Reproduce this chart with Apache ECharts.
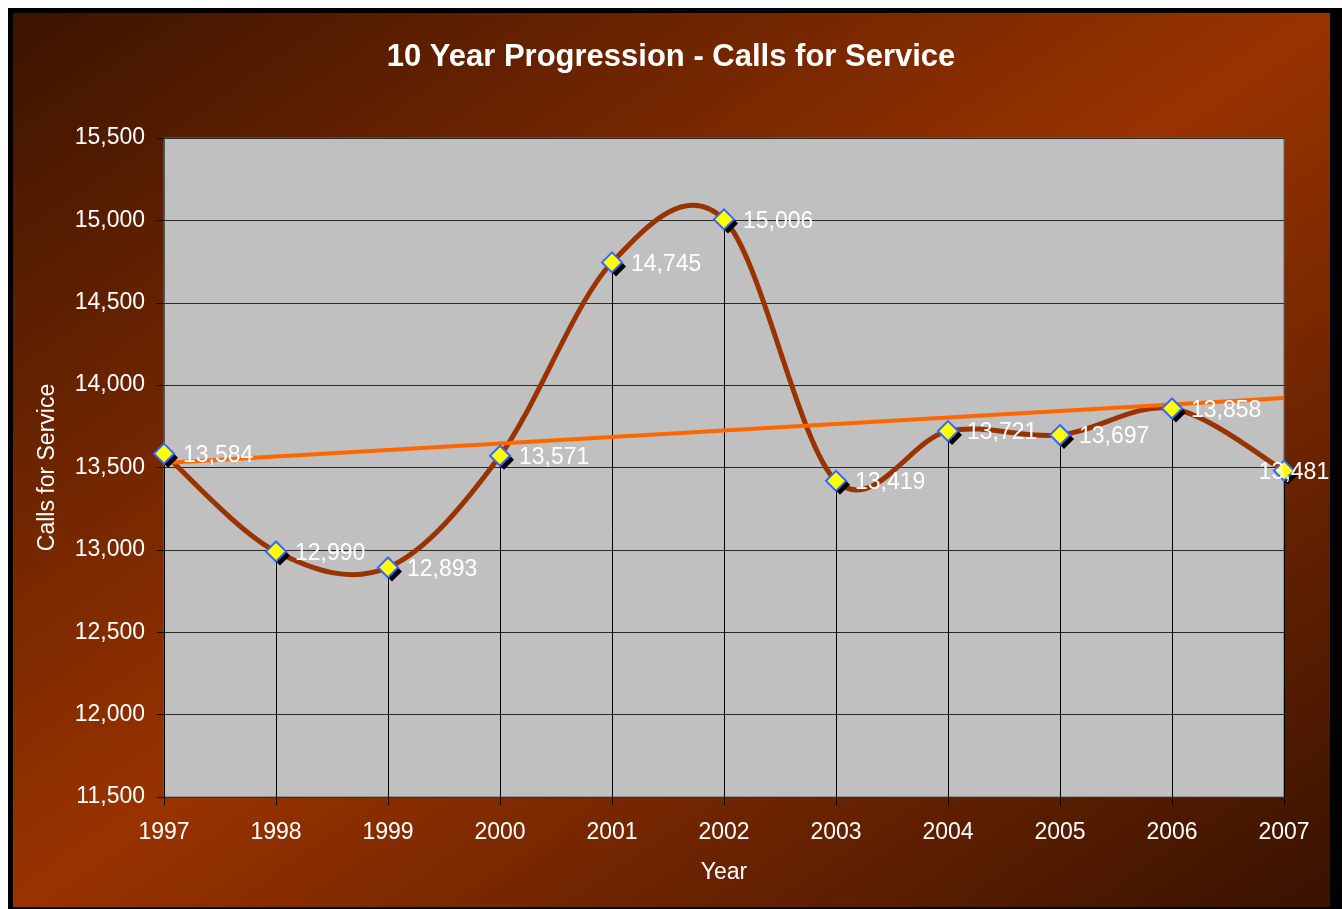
<!DOCTYPE html>
<html>
<head>
<meta charset="utf-8">
<title>10 Year Progression - Calls for Service</title>
<script src="https://cdn.jsdelivr.net/npm/echarts@6/dist/echarts.min.js"></script>
<style>
  html, body { margin: 0; padding: 0; background: #fff; }
  #chart { width: 1342px; height: 909px; }
</style>
</head>
<body>
<div id="chart"></div>
<script>
// values
const years = ['1997', '1998', '1999', '2000', '2001', '2002', '2003', '2004', '2005', '2006', '2007'];
const calls = [13584, 12990, 12893, 13571, 14745, 15006, 13419, 13721, 13697, 13858, 13481];
// trend line end points (1997 and 2007)
const trendEnds = [13527, 13922];
const yTicks = { min: 11500, max: 15500, step: 500 };

const font = "'Liberation Sans', Arial, sans-serif";
const myChart = echarts.init(document.getElementById('chart'));

const trend = years.map((y, i) => {
  if (i === 0) return trendEnds[0];
  if (i === years.length - 1) return trendEnds[1];
  return null;
});

const pointData = calls.map((v, i) => {
  if (i === calls.length - 1) {
    return { value: v, label: { position: 'inside', offset: [10, 2] } };
  }
  return v;
});

const fmt = (v) => Number(v).toLocaleString('en-US');

// excel style smoothed line, one bezier segment per point pair
function renderSmooth(params, api) {
  const i = params.dataIndex;
  if (i >= calls.length - 1) return null;
  const pt = (k) => {
    k = Math.max(0, Math.min(calls.length - 1, k));
    return api.coord([k, calls[k]]);
  };
  const p0 = pt(i - 1), p1 = pt(i), p2 = pt(i + 1), p3 = pt(i + 2);
  return {
    type: 'bezierCurve',
    shape: {
      x1: p1[0], y1: p1[1],
      x2: p2[0], y2: p2[1],
      cpx1: p1[0] + (p2[0] - p0[0]) / 6,
      cpy1: p1[1] + (p2[1] - p0[1]) / 6,
      cpx2: p2[0] - (p3[0] - p1[0]) / 6,
      cpy2: p2[1] - (p3[1] - p1[1]) / 6
    },
    style: { fill: null, stroke: '#993300', lineWidth: 5, lineCap: 'round' }
  };
}

// drop lines from each point down to the axis
function renderDrop(params, api) {
  const top = api.coord([api.value(0), api.value(1)]);
  const bottom = api.coord([api.value(0), yTicks.min]);
  const x = Math.round(top[0]) + 0.5;
  return {
    type: 'line',
    shape: { x1: x, y1: top[1], x2: x, y2: bottom[1] },
    style: { stroke: '#000', lineWidth: 1 }
  };
}

const xy = calls.map((v, i) => [i, v]);

const option = {
  backgroundColor: '#ffffff',
  animation: false,
  graphic: [
    {
      type: 'rect', z: -10, silent: true,
      shape: { x: 8, y: 8, width: 1334, height: 901 },
      style: { fill: '#000' }
    },
    {
      type: 'rect', z: -9, silent: true,
      shape: { x: 13, y: 13, width: 1317, height: 894 },
      style: {
        fill: new echarts.graphic.LinearGradient(256, -152, 1087, 1072, [
          { offset: 0, color: '#3c1400' },
          { offset: 0.5, color: '#993300' },
          { offset: 1, color: '#381200' }
        ], true)
      }
    }
  ],
  title: {
    text: '10 Year Progression - Calls for Service',
    left: 'center',
    top: 37,
    textStyle: { color: '#fff', fontSize: 31, fontWeight: 'bold', fontFamily: font }
  },
  grid: {
    left: 164, right: 58, top: 138, bottom: 112,
    show: true,
    backgroundColor: '#c0c0c0',
    borderColor: '#666',
    borderWidth: 1
  },
  xAxis: {
    type: 'category',
    data: years,
    boundaryGap: false,
    name: 'Year',
    nameLocation: 'middle',
    nameGap: 64,
    nameTextStyle: { color: '#fff', fontSize: 23, fontFamily: font },
    axisLine: { lineStyle: { color: '#333', width: 1 } },
    axisTick: { show: true, length: 8, lineStyle: { color: '#000' } },
    axisLabel: { color: '#fff', fontSize: 23, fontFamily: font, margin: 24 },
    splitLine: { show: false }
  },
  yAxis: {
    type: 'value',
    min: yTicks.min,
    max: yTicks.max,
    interval: yTicks.step,
    name: 'Calls for Service',
    nameLocation: 'middle',
    nameGap: 105,
    nameRotate: 90,
    nameTextStyle: { color: '#fff', fontSize: 23, fontFamily: font },
    axisLine: { show: true, lineStyle: { color: '#555', width: 1 } },
    axisTick: { show: true, length: 7, lineStyle: { color: '#000' } },
    axisLabel: {
      color: '#fff', fontSize: 23, fontFamily: font, margin: 19,
      padding: [4, 0, 0, 0], formatter: fmt
    },
    splitLine: { show: true, lineStyle: { color: '#2a2a2a', width: 1 } }
  },
  series: [
    {
      type: 'custom',
      data: xy,
      silent: true,
      z: 1,
      renderItem: renderDrop
    },
    {
      type: 'custom',
      data: xy,
      silent: true,
      z: 2,
      renderItem: renderSmooth
    },
    {
      type: 'line',
      data: trend,
      connectNulls: true,
      symbol: 'none',
      z: 3,
      lineStyle: { color: '#ff6600', width: 4 }
    },
    {
      // marker shadows
      type: 'scatter',
      data: calls,
      silent: true,
      z: 4,
      symbol: 'diamond',
      symbolSize: 20,
      symbolOffset: [4, 4],
      itemStyle: { color: '#000', opacity: 1 }
    },
    {
      type: 'scatter',
      data: pointData,
      z: 5,
      symbol: 'diamond',
      symbolSize: 20,
      itemStyle: {
        color: '#ffff00',
        borderColor: '#3366ff',
        borderWidth: 2,
        opacity: 1
      },
      label: {
        show: true,
        position: 'right',
        distance: 8,
        offset: [0, 2],
        color: '#fff',
        fontSize: 23,
        fontFamily: font,
        formatter: (p) => fmt(p.value)
      }
    }
  ]
};

myChart.setOption(option);
</script>
</body>
</html>
